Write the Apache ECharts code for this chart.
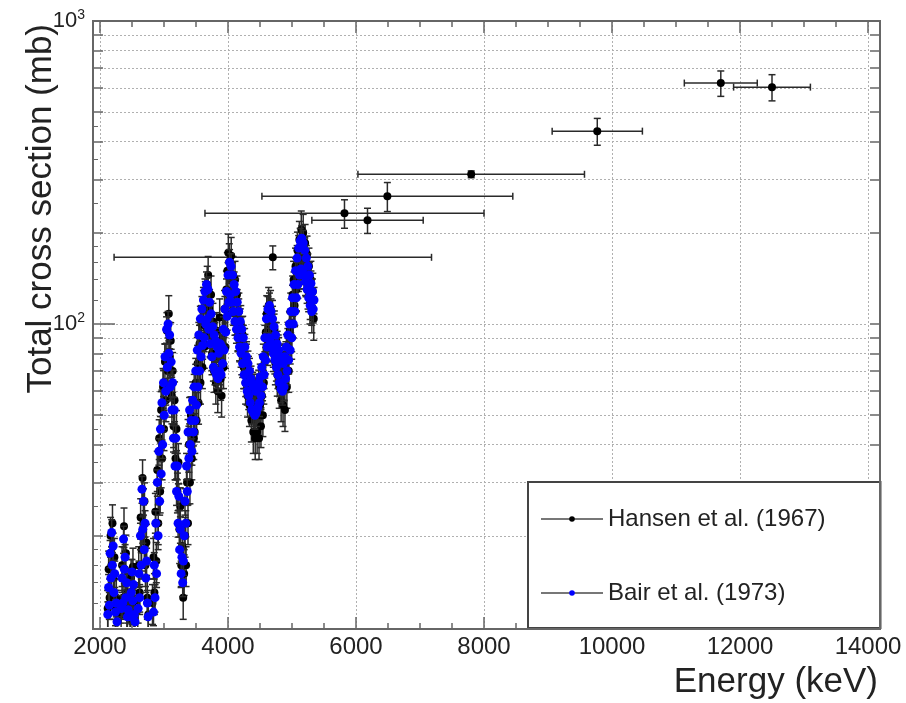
<!DOCTYPE html>
<html>
<head>
<meta charset="utf-8">
<script src="https://cdn.jsdelivr.net/npm/echarts@6/dist/echarts.min.js"></script>
<style>
  html, body { margin: 0; padding: 0; background: #fff; }
  #chart { width: 906px; height: 703px; }
</style>
</head>
<body>
<div id="chart"></div>
<script>
// axis values
const xMin = 2000, xMax = 14000, xStep = 2000;
const yMin = 10, yMax = 1000;
const yLabelValues = [100, 1000];
const yGridValues = [20, 30, 40, 50, 60, 70, 80, 90, 100, 200, 300, 400, 500, 600, 700, 800, 900, 1000];
const yFineValues = [12, 14, 16, 18, 25, 35, 45, 120, 140, 160, 180, 250, 350, 450];

// Hansen et al. (1967): [energy keV, sigma mb, d sigma]
const hansenFine = [
  [2120,11.5,1.7],[2135,15.5,2.3],[2150,12.5,1.9],[2165,20.0,3.0],[2180,16.0,2.4],[2195,22.0,3.3],[2210,14.5,2.2],[2225,17.0,2.6],[2240,11.5,1.7],[2255,12.5,1.9],
  [2330,11.0,1.6],[2345,16.0,2.4],[2360,12.5,1.9],[2375,21.5,3.2],[2390,15.5,2.3],[2405,17.5,2.6],[2420,11.5,1.7],[2435,13.0,2.0],
  [2470,10.6,1.6],[2485,14.5,2.2],[2500,12.0,1.8],[2515,15.8,2.4],[2530,11.0,1.7],[2545,12.2,1.8],
  [2590,11.5,1.7],[2605,16.0,2.4],[2620,13.0,2.0],[2635,23.0,3.5],[2650,18.0,2.7],[2665,31.0,4.6],[2680,22.0,3.3],[2695,26.0,3.9],[2710,16.0,2.4],[2725,19.0,2.8],
  [2740,12.5,1.9],[2755,11.0,1.6],
  [2820,12.0,1.8],[2835,17.0,2.6],[2850,13.0,2.0],[2865,24.0,3.6],[2880,16.5,2.5],[2895,33.0,5.0],[2910,22.0,3.3],[2925,42.0,6.3],[2940,28.0,4.2],[2955,52.0,7.8],
  [2970,36.0,5.4],[2985,62.0,9.3],[3000,45.0,6.8],[3015,75.0,11],[3030,56.0,8.4],[3045,95.0,14],[3060,70.0,10.5],[3075,108.0,16],[3090,78.0,11.7],[3105,88.0,13],
  [3120,58.0,8.7],[3135,70.0,10.5],[3150,46.0,6.9],[3165,56.0,8.4],[3180,36.0,5.4],[3195,45.0,6.8],[3210,28.0,4.2],[3225,35.0,5.3],[3240,21.0,3.2],[3255,25.0,3.8],
  [3270,16.0,2.4],[3285,18.5,2.8],[3300,12.5,1.9],[3315,15.0,2.3],
  [3330,20.0,3.0],[3345,16.0,2.4],[3360,30.0,4.5],[3375,22.0,3.3],[3390,40.0,6.0],[3405,30.0,4.5],[3420,50.0,7.5],[3435,36.0,5.4],[3450,56.0,8.4],[3465,42.0,6.3],
  [3480,44.0,6.6],[3495,64.0,9.6],[3510,48.0,7.2],[3525,74.0,11],[3540,55.0,8.3],[3555,86.0,13],[3570,64.0,9.6],[3585,100.0,15],[3600,72.0,10.8],[3615,112.0,17],[3630,84.0,12.6],
  [3645,120.0,18],[3660,98.0,15],[3675,135.0,20],[3690,145.0,22],[3705,112.0,17],[3720,92.0,14],[3735,125.0,19],[3750,80.0,12],[3765,102.0,15],[3780,70.0,10.5],
  [3795,88.0,13],[3810,64.0,9.6],[3825,95.0,14],[3840,60.0,9],[3855,78.0,12],[3870,105.0,16],[3885,66.0,10],[3900,58.0,8.7],[3915,90.0,13.5],[3930,72.0,10.8],[3945,112.0,17],[3960,84.0,12.6],
  [3975,130.0,19.5],[3990,150.0,22],[4005,172.0,26],[4020,160.0,24],[4035,140.0,21],[4050,168.0,25],[4065,125.0,19],[4080,145.0,22],[4095,118.0,18],[4110,140.0,21],
  [4125,108.0,16],[4140,125.0,19],[4155,96.0,14.4],[4170,110.0,16.5],[4185,88.0,13],[4200,100.0,15],
  [4215,80.0,12],[4230,92.0,14],[4245,72.0,10.8],[4260,84.0,12.6],[4275,64.0,9.6],[4290,76.0,11.4],[4305,58.0,8.7],[4320,68.0,10.2],[4335,54.0,8.1],[4350,62.0,9.3],
  [4365,48.0,7.2],[4380,58.0,8.7],[4395,44.0,6.6],[4410,52.0,7.8],[4425,42.0,6.3],[4440,56.0,8.4],[4455,44.0,6.6],[4470,50.0,7.5],[4485,42.0,6.3],[4500,54.0,8.1],
  [4515,46.0,6.9],[4530,58.0,8.7],[4545,50.0,7.5],[4560,64.0,9.6],
  [4575,78.0,11.7],[4590,94.0,14],[4605,108.0,16],[4620,86.0,13],[4635,115.0,17],[4650,98.0,15],[4665,112.0,17],[4680,88.0,13],[4695,104.0,15.6],[4710,82.0,12.3],
  [4725,96.0,14.4],[4740,74.0,11],[4755,88.0,13],[4770,68.0,10.2],
  [4785,80.0,12],[4800,62.0,9.3],[4815,74.0,11],[4830,56.0,8.4],[4845,70.0,10.5],[4860,54.0,8.1],[4875,66.0,9.9],[4890,52.0,7.8],[4905,76.0,11.4],[4920,62.0,9.3],
  [4935,84.0,12.6],[4950,70.0,10.5],[4965,95.0,14],
  [4980,110.0,16.5],[4995,90.0,13.5],[5010,125.0,19],[5025,140.0,21],[5040,115.0,17],[5055,155.0,23],[5070,130.0,19.5],[5085,175.0,26],[5100,150.0,22],[5115,190.0,28],
  [5130,165.0,25],[5145,205.0,31],[5160,180.0,27],[5175,200.0,30],[5190,160.0,24],[5205,185.0,28],[5220,145.0,22],[5235,170.0,25],[5250,132.0,20],[5265,155.0,23],
  [5280,118.0,18],[5295,140.0,21],[5310,110.0,16.5],[5325,128.0,19],[5340,104.0,15.6]
];

// Hansen wide-bin points: [energy, sigma, d energy, d sigma]
const hansenWide = [
  [4700, 166, 2480, 15],
  [5820, 232, 2180, 25],
  [6180, 220, 870, 21],
  [6490, 264, 1960, 29],
  [7800, 312, 1770, 8],
  [9770, 433, 705, 44],
  [11700, 624, 570, 60],
  [12500, 605, 600, 60]
];

// Bair et al. (1973): [energy keV, sigma mb, d sigma]
const bairFine = [
  [2122,11.0,1.1],[2134,13.5,1.4],[2146,11.8,1.2],[2158,17.5,1.8],[2170,14.5,1.5],[2182,20.5,2.1],[2194,16.0,1.6],[2206,18.5,1.9],[2218,13.0,1.3],[2230,15.0,1.5],
  [2242,11.2,1.1],[2254,12.0,1.2],[2266,10.4,1.0],
  [2332,11.5,1.2],[2344,14.5,1.5],[2356,12.0,1.2],[2368,19.5,2.0],[2380,15.5,1.6],[2392,17.0,1.7],[2404,12.5,1.3],[2416,14.0,1.4],[2428,10.8,1.1],[2440,11.4,1.1],
  [2476,10.8,1.1],[2488,13.0,1.3],[2500,15.2,1.5],[2512,12.2,1.2],[2524,13.8,1.4],[2536,11.0,1.1],[2548,10.4,1.0],
  [2596,11.5,1.2],[2608,15.0,1.5],[2620,12.5,1.3],[2632,20.0,2.0],[2644,16.0,1.6],[2656,28.5,2.9],[2668,21.0,2.1],[2680,26.0,2.6],[2692,18.0,1.8],[2704,22.0,2.2],
  [2716,14.5,1.5],[2728,16.5,1.7],[2740,12.0,1.2],[2752,10.8,1.1],
  [2836,11.2,1.1],[2848,16.0,1.6],[2860,12.5,1.3],[2872,22.0,2.2],[2884,15.0,1.5],[2896,30.0,3.0],[2908,20.0,2.0],[2920,38.0,3.8],[2932,26.0,2.6],[2944,45.0,4.5],
  [2956,32.0,3.2],[2968,55.0,5.5],[2980,40.0,4.0],[2992,64.0,6.4],[3004,50.0,5.0],[3016,78.0,7.8],[3028,60.0,6.0],[3040,96.0,9.6],[3052,72.0,7.2],[3064,100.0,10],
  [3076,80.0,8.0],[3088,92.0,9.2],[3100,62.0,6.2],[3112,75.0,7.5],[3124,52.0,5.2],[3136,64.0,6.4],[3148,42.0,4.2],[3160,52.0,5.2],[3172,34.0,3.4],[3184,42.0,4.2],
  [3196,28.0,2.8],[3208,34.0,3.4],[3220,22.0,2.2],[3232,27.0,2.7],[3244,18.0,1.8],[3256,21.0,2.1],[3268,15.0,1.5],[3280,17.0,1.7],[3292,14.0,1.4],[3304,16.5,1.7],
  [3316,20.0,2.0],[3328,26.0,2.6],[3340,22.0,2.2],[3352,34.0,3.4],[3364,28.0,2.8],[3376,44.0,4.4],[3388,36.0,3.6],[3400,52.0,5.2],[3412,40.0,4.0],[3424,48.0,4.8],
  [3436,38.0,3.8],[3448,56.0,5.6],[3460,44.0,4.4],[3472,62.0,6.2],[3484,48.0,4.8],[3496,70.0,7.0],[3508,54.0,5.4],[3520,82.0,8.2],[3532,62.0,6.2],[3544,92.0,9.2],
  [3556,70.0,7.0],[3568,104.0,10.4],[3580,78.0,7.8],[3592,112.0,11.2],[3604,85.0,8.5],[3616,120.0,12],[3628,90.0,9.0],
  [3640,128.0,12.8],[3652,100.0,10],[3664,135.0,13.5],[3676,104.0,10.4],[3688,130.0,13],[3700,96.0,9.6],[3712,118.0,11.8],[3724,86.0,8.6],[3736,108.0,10.8],[3748,78.0,7.8],
  [3760,98.0,9.8],[3772,72.0,7.2],[3784,92.0,9.2],[3796,70.0,7.0],[3808,88.0,8.8],[3820,68.0,6.8],[3832,84.0,8.4],[3844,66.0,6.6],[3856,80.0,8.0],[3868,70.0,7.0],
  [3880,86.0,8.6],[3892,68.0,6.8],[3904,84.0,8.4],[3916,74.0,7.4],[3928,96.0,9.6],[3940,82.0,8.2],[3952,112.0,11.2],[3964,94.0,9.4],[3976,128.0,12.8],
  [3988,106.0,10.6],[4000,145.0,14.5],[4012,118.0,11.8],[4024,160.0,16],[4036,125.0,12.5],[4048,155.0,15.5],[4060,118.0,11.8],[4072,145.0,14.5],[4084,110.0,11],[4096,135.0,13.5],
  [4108,102.0,10.2],[4120,128.0,12.8],[4132,96.0,9.6],[4144,118.0,11.8],[4156,90.0,9.0],[4168,110.0,11],[4180,84.0,8.4],[4192,102.0,10.2],
  [4204,80.0,8.0],[4216,96.0,9.6],[4228,74.0,7.4],[4240,90.0,9.0],[4252,68.0,6.8],[4264,84.0,8.4],[4276,64.0,6.4],[4288,78.0,7.8],[4300,60.0,6.0],[4312,74.0,7.4],
  [4324,58.0,5.8],[4336,70.0,7.0],[4348,55.0,5.5],[4360,66.0,6.6],[4372,52.0,5.2],[4384,63.0,6.3],[4396,51.0,5.1],[4408,62.0,6.2],[4420,50.0,5.0],[4432,60.0,6.0],
  [4444,51.0,5.1],[4456,62.0,6.2],[4468,53.0,5.3],[4480,64.0,6.4],[4492,55.0,5.5],[4504,67.0,6.7],[4516,58.0,5.8],[4528,72.0,7.2],[4540,62.0,6.2],[4552,78.0,7.8],
  [4564,68.0,6.8],[4576,90.0,9.0],[4588,76.0,7.6],[4600,104.0,10.4],[4612,84.0,8.4],[4624,112.0,11.2],[4636,90.0,9.0],[4648,115.0,11.5],[4660,88.0,8.8],[4672,110.0,11],
  [4684,84.0,8.4],[4696,104.0,10.4],[4708,80.0,8.0],[4720,98.0,9.8],[4732,76.0,7.6],[4744,92.0,9.2],[4756,72.0,7.2],[4768,86.0,8.6],
  [4780,68.0,6.8],[4792,82.0,8.2],[4804,64.0,6.4],[4816,78.0,7.8],[4828,61.0,6.1],[4840,75.0,7.5],[4852,60.0,6.0],[4864,74.0,7.4],[4876,62.0,6.2],[4888,78.0,7.8],
  [4900,66.0,6.6],[4912,84.0,8.4],[4924,70.0,7.0],[4936,92.0,9.2],[4948,76.0,7.6],[4960,100.0,10],[4972,82.0,8.2],
  [4984,110.0,11],[4996,90.0,9.0],[5008,122.0,12.2],[5020,100.0,10],[5032,135.0,13.5],[5044,110.0,11],[5056,150.0,15],[5068,122.0,12.2],[5080,165.0,16.5],[5092,135.0,13.5],
  [5104,178.0,17.8],[5116,145.0,14.5],[5128,188.0,18.8],[5140,152.0,15.2],[5152,192.0,19.2],[5164,150.0,15],[5176,185.0,18.5],[5188,145.0,14.5],[5200,175.0,17.5],[5212,138.0,13.8],
  [5224,165.0,16.5],[5236,130.0,13],[5248,155.0,15.5],[5260,122.0,12.2],[5272,145.0,14.5],[5284,115.0,11.5],[5296,136.0,13.6],[5308,110.0,11],[5320,128.0,12.8],[5332,112.0,11.2],[5344,120.0,12]
];

const hansenName = 'Hansen et al. (1967)';
const bairName = 'Bair et al. (1973)';

const font = '"Liberation Sans", Arial, Helvetica, sans-serif';
const textColor = '#222';
const frameColor = '#666';
const errColor = '#2a2a2a';

const hansenErr = hansenFine.map(p => [p[0], p[1], 0, p[2]]).concat(hansenWide);
const hansenPts = hansenErr.map(p => [p[0], p[1]]);
const bairErr = bairFine.map(p => [p[0], p[1], 0, p[2]]);
const bairPts = bairFine.map(p => [p[0], p[1]]);

function renderErrors(params, api) {
  const x = api.value(0), y = api.value(1), dx = api.value(2), dy = api.value(3);
  const c = api.coord([x, y]);
  const cap = 3.5;
  const st = { stroke: errColor, lineWidth: 1.5 };
  const children = [];
  const seg = (x1, y1, x2, y2) => ({ type: 'line', shape: { x1, y1, x2, y2 }, style: st });
  if (dy > 0) {
    const top = api.coord([x, y + dy])[1];
    const bot = api.coord([x, y - dy])[1];
    children.push(seg(c[0], top, c[0], bot), seg(c[0] - cap, top, c[0] + cap, top), seg(c[0] - cap, bot, c[0] + cap, bot));
  }
  if (dx > 0) {
    const l = api.coord([x - dx, y])[0];
    const r = api.coord([x + dx, y])[0];
    children.push(seg(l, c[1], r, c[1]), seg(l, c[1] - cap, l, c[1] + cap), seg(r, c[1] - cap, r, c[1] + cap));
  }
  return { type: 'group', children };
}

const chart = echarts.init(document.getElementById('chart'), null, { renderer: 'canvas' });

const gridLine = { show: true, lineStyle: { color: '#b0b0b0', width: 1, type: [2, 2] } };

const option = {
  animation: false,
  backgroundColor: '#fff',
  grid: { left: 100, right: 38, top: 21, bottom: 76 },
  xAxis: [
    {
      type: 'value', min: xMin, max: xMax, interval: xStep, position: 'bottom', offset: 2,
      axisLine: { show: false },
      axisTick: { inside: true, length: 12, lineStyle: { color: frameColor, width: 1.5 } },
      minorTick: { show: true, splitNumber: 4, length: 6, lineStyle: { color: frameColor, width: 1.5 } },
      axisLabel: { color: textColor, fontSize: 24, fontFamily: font, margin: 6, formatter: v => String(v) },
      splitLine: gridLine
    },
    {
      type: 'value', min: xMin, max: xMax, interval: xStep, position: 'top', offset: 0,
      axisLine: { show: false },
      axisTick: { inside: true, length: 12, lineStyle: { color: frameColor, width: 1.5 } },
      minorTick: { show: true, splitNumber: 4, length: 6, lineStyle: { color: frameColor, width: 1.5 } },
      axisLabel: { show: false },
      splitLine: { show: false }
    }
  ],
  yAxis: [
    {
      type: 'log', logBase: 10, min: yMin, max: yMax, position: 'left', offset: 7,
      axisLine: { show: false },
      axisTick: { inside: true, length: 10, customValues: yGridValues, lineStyle: { color: frameColor, width: 1.5 } },
      axisLabel: {
        customValues: yLabelValues, color: textColor, fontFamily: font, margin: 8,
        formatter: v => '{b|10}{s|' + Math.round(Math.log10(v)) + '}',
        rich: {
          b: { fontSize: 22, fontFamily: font, color: textColor, lineHeight: 26 },
          s: { fontSize: 14, fontFamily: font, color: textColor, lineHeight: 14, verticalAlign: 'top' }
        }
      },
      splitLine: gridLine
    },
    {
      type: 'log', logBase: 10, min: yMin, max: yMax, position: 'left', offset: 7,
      axisLine: { show: false },
      axisTick: { inside: true, length: 22, customValues: yLabelValues, lineStyle: { color: frameColor, width: 1.5 } },
      axisLabel: { show: false },
      splitLine: { show: false }
    },
    {
      type: 'log', logBase: 10, min: yMin, max: yMax, position: 'left', offset: 7,
      axisLine: { show: false },
      axisTick: { inside: true, length: 5, customValues: yFineValues, lineStyle: { color: frameColor, width: 1 } },
      axisLabel: { show: false },
      splitLine: { show: false }
    },
    {
      type: 'log', logBase: 10, min: yMin, max: yMax, position: 'right', offset: 12,
      axisLine: { show: false },
      axisTick: { inside: true, length: 10, customValues: yGridValues, lineStyle: { color: frameColor, width: 1.5 } },
      axisLabel: { show: false },
      splitLine: { show: false }
    }
  ],
  legend: {
    data: [hansenName, bairName],
    orient: 'vertical',
    left: 528, top: 482,
    padding: [22, 55, 20, 12],
    itemGap: 44,
    itemWidth: 62,
    itemHeight: 7,
    itemTextGap: 15,
    backgroundColor: '#fff',
    borderColor: '#444',
    borderWidth: 2,
    borderRadius: 0,
    textStyle: { fontSize: 24, fontFamily: font, color: textColor, lineHeight: 30 },
    lineStyle: { color: '#777', width: 2, opacity: 1 },
    z: 10
  },
  graphic: [
    {
      type: 'rect', z: 20, silent: true,
      shape: { x: 93, y: 21, width: 787, height: 608 },
      style: { fill: 'none', stroke: frameColor, lineWidth: 2 }
    },
    {
      type: 'text', x: 878, y: 682, z: 20,
      style: { text: 'Energy (keV)', align: 'right', verticalAlign: 'middle', fontSize: 35, fontFamily: font, fill: textColor }
    },
    {
      type: 'text', x: 41, y: 24, rotation: Math.PI / 2, z: 20,
      style: { text: 'Total cross section (mb)', align: 'right', verticalAlign: 'middle', fontSize: 35, fontFamily: font, fill: textColor }
    }
  ],
  series: [
    {
      name: hansenName + ' errors', type: 'custom', clip: true,
      renderItem: renderErrors, data: hansenErr,
      encode: { x: 0, y: 1 }, z: 2
    },
    {
      name: hansenName, type: 'line', data: hansenPts,
      symbol: 'circle', symbolSize: 8, showSymbol: true,
      itemStyle: { color: '#000' },
      lineStyle: { width: 0 }, z: 3
    },
    {
      name: bairName + ' errors', type: 'custom', clip: true,
      renderItem: renderErrors, data: bairErr,
      encode: { x: 0, y: 1 }, z: 4
    },
    {
      name: bairName, type: 'line', data: bairPts,
      symbol: 'circle', symbolSize: 9, showSymbol: true,
      itemStyle: { color: '#0000ff' },
      lineStyle: { width: 0 }, z: 5
    }
  ]
};

chart.setOption(option);
</script>
</body>
</html>
